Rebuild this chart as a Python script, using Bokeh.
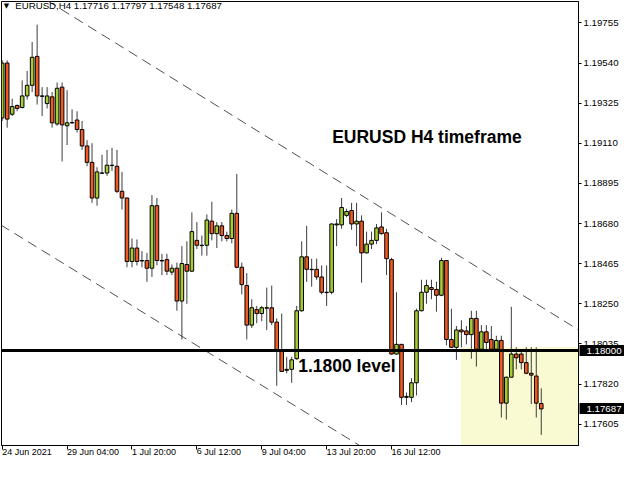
from bokeh.plotting import figure
from bokeh.models import Range1d, FixedTicker, PrintfTickFormatter, Span, BoxAnnotation, Label, LinearAxis
from bokeh.embed import file_html
from bokeh.resources import INLINE

# ---------------- data (EURUSD H4) ----------------
opens = [1.19246, 1.19540, 1.19266, 1.19313, 1.19302, 1.19364, 1.19421, 1.19576, 1.19364, 1.19323,
         1.19359, 1.19214, 1.19411, 1.19204, 1.19220, 1.19235, 1.19184, 1.19096, 1.19008, 1.18817,
         1.18951, 1.18951, 1.18993, 1.18987, 1.18853, 1.18817, 1.18477, 1.18549, 1.18482, 1.18482,
         1.18441, 1.18776, 1.18482, 1.18487, 1.18420, 1.18441, 1.18265, 1.18461, 1.18425, 1.18590,
         1.18564, 1.18564, 1.18693, 1.18626, 1.18668, 1.18616, 1.18600, 1.18735, 1.18446, 1.18348,
         1.18136, 1.18219, 1.18198, 1.18229, 1.18229, 1.18152, 1.17997, 1.17894, 1.17899, 1.17956,
         1.18213, 1.18502, 1.18435, 1.18435, 1.18394, 1.18312, 1.18312, 1.18678, 1.18673, 1.18724,
         1.18750, 1.18678, 1.18693, 1.18523, 1.18570, 1.18590, 1.18662, 1.18631, 1.18487, 1.17981,
         1.18033, 1.17749, 1.17749, 1.17827, 1.18213, 1.18312, 1.18337, 1.18327, 1.18296, 1.18482,
         1.18059, 1.18017, 1.18110, 1.18105, 1.18085, 1.18172, 1.18007, 1.18100, 1.18059, 1.18007,
         1.18054, 1.17718, 1.17857, 1.17981, 1.17981, 1.17935, 1.17878, 1.17863, 1.17716]
highs = [1.19555, 1.19555, 1.19349, 1.19318, 1.19447, 1.19498, 1.19653, 1.19746, 1.19411, 1.19411,
         1.19385, 1.19436, 1.19436, 1.19395, 1.19292, 1.19282, 1.19230, 1.19127, 1.19111, 1.18982,
         1.19049, 1.19075, 1.19086, 1.19075, 1.18957, 1.18820, 1.18600, 1.18595, 1.18533, 1.18523,
         1.18833, 1.18817, 1.18518, 1.18518, 1.18461, 1.18471, 1.18559, 1.18585, 1.18740, 1.18688,
         1.18616, 1.18729, 1.18797, 1.18688, 1.18688, 1.18637, 1.18755, 1.18946, 1.18471, 1.18415,
         1.18275, 1.18239, 1.18239, 1.18337, 1.18348, 1.18172, 1.18198, 1.17966, 1.17966, 1.18239,
         1.18585, 1.18668, 1.18492, 1.18492, 1.18456, 1.18456, 1.18680, 1.18704, 1.18817, 1.18760,
         1.18791, 1.18791, 1.18724, 1.18637, 1.18637, 1.18678, 1.18740, 1.18652, 1.18497, 1.18312,
         1.18035, 1.17775, 1.17852, 1.18224, 1.18379, 1.18379, 1.18379, 1.18368, 1.18497, 1.18485,
         1.18224, 1.18131, 1.18162, 1.18131, 1.18213, 1.18213, 1.18136, 1.18136, 1.18131, 1.18079,
         1.18079, 1.17860, 1.18234, 1.18017, 1.18007, 1.18017, 1.18017, 1.18017, 1.17797]
lows = [1.19230, 1.19194, 1.19256, 1.19282, 1.19297, 1.19344, 1.19385, 1.19318, 1.19256, 1.19297,
        1.19194, 1.19204, 1.19013, 1.19101, 1.19214, 1.19168, 1.19075, 1.18987, 1.18791, 1.18776,
        1.18946, 1.18936, 1.18962, 1.18843, 1.18755, 1.18446, 1.18446, 1.18456, 1.18446, 1.18368,
        1.18394, 1.18456, 1.18404, 1.18404, 1.18404, 1.18213, 1.18059, 1.18250, 1.18420, 1.18544,
        1.18508, 1.18508, 1.18590, 1.18549, 1.18585, 1.18585, 1.18575, 1.18440, 1.18301, 1.18059,
        1.18121, 1.18146, 1.18157, 1.18110, 1.18136, 1.17811, 1.17885, 1.17878, 1.17827, 1.17950,
        1.18208, 1.18368, 1.18342, 1.18379, 1.18301, 1.18239, 1.18301, 1.18559, 1.18652, 1.18714,
        1.18647, 1.18559, 1.18363, 1.18520, 1.18544, 1.18570, 1.18621, 1.18404, 1.17978, 1.17978,
        1.17708, 1.17708, 1.17723, 1.17759, 1.18210, 1.18250, 1.18275, 1.18208, 1.18291, 1.18028,
        1.18015, 1.17950, 1.18017, 1.18033, 1.17956, 1.17914, 1.18002, 1.18002, 1.18002, 1.18002,
        1.17641, 1.17630, 1.17855, 1.17899, 1.17899, 1.17873, 1.17713, 1.17641, 1.17548]
closes = [1.19540, 1.19240, 1.19307, 1.19297, 1.19364, 1.19421, 1.19571, 1.19364, 1.19362, 1.19364,
          1.19220, 1.19405, 1.19209, 1.19220, 1.19221, 1.19184, 1.19096, 1.19008, 1.18817, 1.18957,
          1.18950, 1.18993, 1.18991, 1.18853, 1.18817, 1.18477, 1.18549, 1.18477, 1.18480, 1.18441,
          1.18776, 1.18482, 1.18480, 1.18425, 1.18441, 1.18265, 1.18466, 1.18425, 1.18637, 1.18564,
          1.18562, 1.18699, 1.18626, 1.18668, 1.18616, 1.18600, 1.18735, 1.18446, 1.18353, 1.18136,
          1.18229, 1.18198, 1.18229, 1.18227, 1.18152, 1.18002, 1.17888, 1.17899, 1.17950, 1.18213,
          1.18502, 1.18435, 1.18433, 1.18394, 1.18312, 1.18310, 1.18678, 1.18673, 1.18766, 1.18745,
          1.18678, 1.18693, 1.18523, 1.18570, 1.18590, 1.18657, 1.18626, 1.18492, 1.17981, 1.18033,
          1.17749, 1.17754, 1.17827, 1.18213, 1.18312, 1.18348, 1.18327, 1.18296, 1.18482, 1.18059,
          1.18017, 1.18110, 1.18100, 1.18085, 1.18172, 1.18007, 1.18100, 1.18043, 1.18007, 1.18054,
          1.17718, 1.17857, 1.17981, 1.17961, 1.17935, 1.17878, 1.17868, 1.17718, 1.17687]

x_tick_bars = [0, 13, 26, 39, 52, 65, 78]
x_tick_labels = ["24 Jun 2021", "29 Jun 04:00", "1 Jul 20:00", "6 Jul 12:00",
                 "9 Jul 04:00", "13 Jul 20:00", "16 Jul 12:00"]
price_ticks = [1.17605, 1.17820, 1.18035, 1.18250, 1.18465, 1.18680,
               1.18895, 1.19110, 1.19325, 1.19540, 1.19755]

symbol = "EURUSD,H4"
level_price = 1.18000
level_text = "1.1800 level"
title_text = "EURUSD H4 timeframe"
zone_start_bar = 91.9
zone_top_price = 1.18017
upper_channel_x = [9.0, 115.5]
upper_channel_y = [1.19875, 1.18110]
lower_channel_x = [-0.3, 71.6]
lower_channel_y = [1.18673, 1.17491]

# ---------------- styling ----------------
BULL = "#A6CC32"
BEAR = "#F05A22"
FONT = "Liberation Sans"

idx = list(range(len(opens)))
tops = [max(o, c) for o, c in zip(opens, closes)]
bottoms = [min(o, c) for o, c in zip(opens, closes)]
colors = [BULL if c > o else BEAR for o, c in zip(opens, closes)]

x_end = 115.46
p = figure(width=624, height=464,
           x_range=Range1d(-0.14, x_end), y_range=Range1d(1.17491, 1.19870),
           y_axis_location="right", output_backend="svg", toolbar_location=None,
           min_border_left=1, min_border_top=1, min_border_right=45, min_border_bottom=16)
p.grid.visible = False
p.outline_line_color = "black"
p.outline_line_width = 1
p.background_fill_color = "white"
p.border_fill_color = "white"

# highlighted zone
p.add_layout(BoxAnnotation(left=zone_start_bar, top=zone_top_price, fill_color="#FAFAD2",
                           fill_alpha=1.0, line_color=None, level="underlay"))

# channel lines
p.line(upper_channel_x, upper_channel_y, line_color="#505050", line_width=1, line_dash="10 6")
p.line(lower_channel_x, lower_channel_y, line_color="#505050", line_width=1, line_dash="10 6")

# candles
p.segment(x0=idx, y0=highs, x1=idx, y1=lows, line_color="#3c3c3c", line_width=1)
p.vbar(x=idx, width=0.72, top=tops, bottom=bottoms, fill_color=colors,
       line_color="black", line_width=1)

# 1.1800 level
p.add_layout(Span(location=level_price, dimension="width", line_color="black", line_width=3))

# axes
p.yaxis.ticker = FixedTicker(ticks=price_ticks)
p.yaxis.formatter = PrintfTickFormatter(format="%.5f")
p.xaxis.ticker = FixedTicker(ticks=x_tick_bars)
p.xaxis.major_label_overrides = dict(zip(x_tick_bars, x_tick_labels))
p.xaxis.major_label_orientation = -0.0001   # tiny negative angle -> labels start at the tick
for ax in (p.xaxis, p.yaxis):
    ax.major_label_text_font = FONT
    ax.major_label_text_color = "black"
    ax.axis_line_color = "black"
    ax.major_tick_line_color = "black"
    ax.major_tick_in = 0
    ax.minor_tick_in = 0
    ax.minor_tick_out = 0
p.xaxis.major_label_text_font_size = "9px"
p.yaxis.major_label_text_font_size = "9.7px"
p.xaxis.major_tick_out = 4
p.xaxis.major_label_standoff = 2
p.yaxis.major_tick_out = 3
p.yaxis.major_label_standoff = 2

# price boxes: a second right-hand axis whose thick black ticks reach back over the price labels
box_axis = LinearAxis(ticker=FixedTicker(ticks=[level_price, closes[-1]]),
                      formatter=PrintfTickFormatter(format="%.5f"),
                      axis_line_color=None,
                      major_tick_line_color="black", major_tick_line_width=11,
                      major_tick_in=42, major_tick_out=6,
                      minor_tick_in=0, minor_tick_out=0,
                      major_label_standoff=-41,
                      major_label_text_font=FONT, major_label_text_font_size="9.7px",
                      major_label_text_color="white")
p.add_layout(box_axis, "right")

# texts
p.add_layout(Label(x=0.3, y=1.19822, text="\u25BC", text_font_size="7px",
                   text_color="black", text_font="DejaVu Sans"))
header = "%s  %.5f %.5f %.5f %.5f" % (symbol, opens[-1], highs[-1], lows[-1], closes[-1])
p.add_layout(Label(x=2.6, y=1.19818, text=header, text_font=FONT, text_font_size="9.7px",
                   text_color="black"))
p.add_layout(Label(x=66.1, y=1.19091, text=title_text, text_font=FONT, text_font_style="bold",
                   text_font_size="17.5px", text_color="black"))
p.add_layout(Label(x=59.3, y=1.17863, text=level_text, text_font=FONT, text_font_style="bold",
                   text_font_size="17.5px", text_color="black"))

open("out.html", "w").write(file_html(p, INLINE))
